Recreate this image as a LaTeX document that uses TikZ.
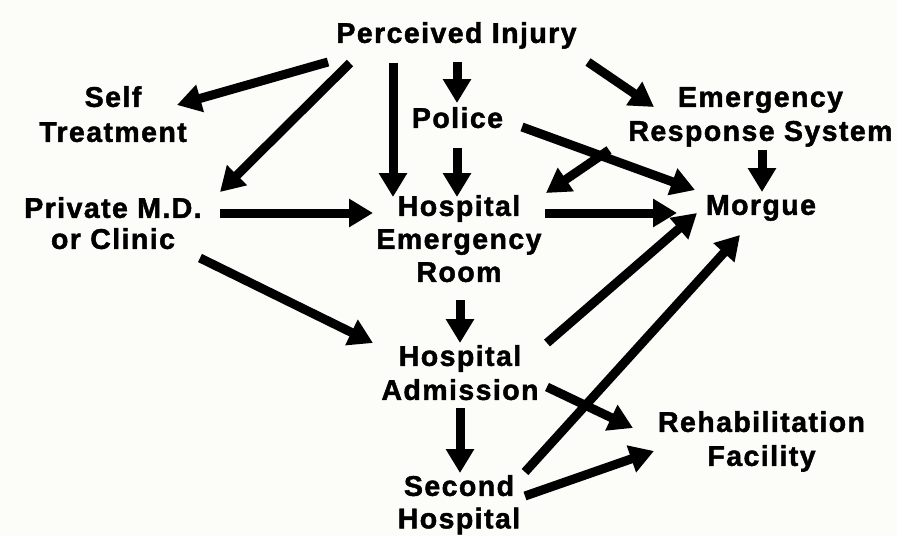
\documentclass[tikz,border=0pt]{standalone}
\usepackage{fontspec}
\newfontfamily\lbfont[LetterSpace=5,FakeBold=1.6]{Liberation Sans}
\usetikzlibrary{arrows.meta,calc}
\definecolor{paper}{RGB}{252,252,248}
\tikzset{
  lbl/.style={anchor=north, align=center, inner sep=0pt, text=black,
    font=\lbfont\bfseries\fontsize{28.5}{34}\selectfont},
  arr/.style={line width=9pt, draw=black, -{Triangle[length=24pt,width=27pt]}}
}
\begin{document}
\begin{tikzpicture}[x=1pt,y=-1pt]
\fill[paper] (0,0) rectangle (897,536);
\useasboundingbox (0,0) rectangle (897,536);
% nodes (anchor north = top of first line)
\node[lbl] (pi)     at (456.5,22) {Perceived Injury};
\node[lbl] (self)   at (113,86)   {Self\\[1pt]Treatment};
\node[lbl] (pmd)    at (113,197)  {Private M.D.\\[-3pt]or Clinic};
\node[lbl] (police) at (457.5,107) {Police};
\node[lbl] (ers)    at (760.5,87) {Emergency\\[0pt]Response System};
\node[lbl] (her)    at (459,195)  {Hospital\\[-1pt]Emergency\\[-1pt]Room};
\node[lbl] (morgue) at (761,195)  {Morgue};
\node[lbl] (adm)    at (460,345)  {Hospital\\[0pt]Admission};
\node[lbl] (second) at (459,475)  {Second\\[-1.5pt]Hospital};
\node[lbl] (rehab)  at (761.5,411) {Rehabilitation\\[0pt]Facility};
% connectors
\draw[arr] ($(pi.north)+(328-456.5,62-22)$) -- ($(self.north)+(177-113,105-86)$);
\draw[arr] ($(pi.north)+(350-456.5,63-22)$) -- ($(pmd.north)+(220-113,192-197)$);
\draw[arr] ($(pi.north)+(393-456.5,63-22)$) -- ($(her.north)+(393-459,197-195)$);
\draw[arr] ($(pi.north)+(457-456.5,62-22)$) -- ($(police.north)+(457-457.5,103-107)$);
\draw[arr] ($(pi.north)+(588-456.5,62-22)$) -- ($(ers.north)+(654-760.5,107-87)$);
\draw[arr] ($(police.north)+(457-457.5,148-107)$) -- ($(her.north)+(457-459,197-195)$);
\draw[arr] ($(police.north)+(522-457.5,127-107)$) -- ($(morgue.north)+(695-761,190-195)$);
\draw[arr] ($(ers.north)+(609-760.5,150-87)$) -- ($(her.north)+(546-459,193-195)$);
\draw[arr] ($(ers.north)+(762-760.5,150-87)$) -- ($(morgue.north)+(762-761,192-195)$);
\draw[arr] ($(pmd.north)+(220-113,213-197)$) -- ($(her.north)+(373-459,213-195)$);
\draw[arr] ($(pmd.north)+(200-113,258-197)$) -- ($(adm.north)+(373-460,343-345)$);
\draw[arr] ($(her.north)+(545-459,213-195)$) -- ($(morgue.north)+(677-761,213-195)$);
\draw[arr] ($(her.north)+(460-459,300-195)$) -- ($(adm.north)+(460-460,343-345)$);
\draw[arr] ($(adm.north)+(547-460,343-345)$) -- ($(morgue.north)+(697-761,213-195)$);
\draw[arr] ($(adm.north)+(460-460,408-345)$) -- ($(second.north)+(460-459,473-475)$);
\draw[arr] ($(adm.north)+(547-460,387-345)$) -- ($(rehab.north)+(633-761.5,428-411)$);
\draw[arr] ($(second.north)+(525-459,472-475)$) -- ($(morgue.north)+(740-761,235-195)$);
\draw[arr] ($(second.north)+(525-459,496-475)$) -- ($(rehab.north)+(654-761.5,451-411)$);
\end{tikzpicture}
\end{document}
